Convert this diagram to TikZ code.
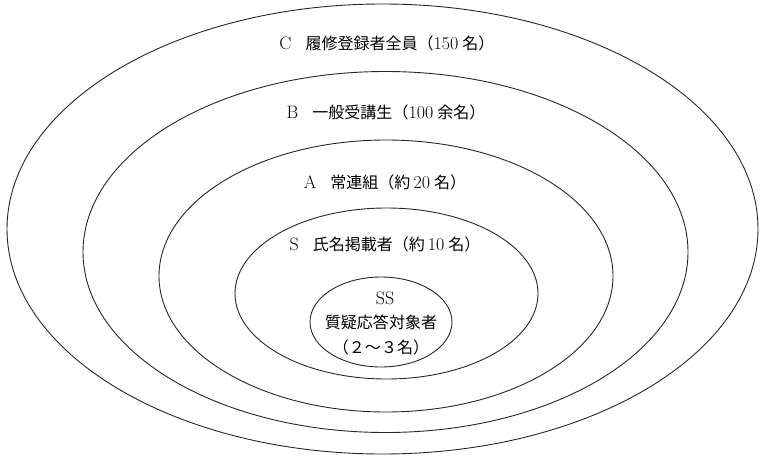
\documentclass[tikz,border=0pt]{standalone}
\usepackage{fontspec}
\newfontfamily\cjk[Scale=0.89]{Noto Sans CJK JP}
\usetikzlibrary{shapes.geometric}
\begin{document}
\begin{tikzpicture}[x=1pt,y=-1pt,
  ring/.style={draw=black!85, line width=0.9pt, ellipse, inner sep=0pt},
  lab/.style={font=\fontsize{18}{24}\selectfont, inner sep=0pt, align=center, text=black}]
\useasboundingbox (0,0) rectangle (760,458);
\node[ring, minimum width=751pt, minimum height=450pt] (C) at (382.5,229) {};
\node[ring, minimum width=605pt, minimum height=361pt] (B) at (385.5,252) {};
\node[ring, minimum width=454pt, minimum height=272pt] (A) at (386,276) {};
\node[ring, minimum width=303pt, minimum height=171pt] (S) at (386.5,293.5) {};
\node[ring, minimum width=142pt, minimum height=90pt] (SS) at (381,322) {};
\node[lab] (Ct) at (387,43) {C\hspace{14pt}{\cjk 履修登録者全員（}150\hspace{4pt}{\cjk 名）}};
\node[lab] (Bt) at (386,112) {B\hspace{14pt}{\cjk 一般受講生（}100\hspace{4pt}{\cjk 余名）}};
\node[lab] (At) at (385,182) {A\hspace{14pt}{\cjk 常連組（約}\hspace{3pt}20\hspace{4pt}{\cjk 名）}};
\node[lab] (St) at (385,244) {S\hspace{14pt}{\cjk 氏名掲載者（約}\hspace{3pt}10\hspace{4pt}{\cjk 名）}};
\node[lab] (SSa) at (385,298) {SS};
\node[lab] (SSb) at (381,322) {\cjk 質疑応答対象者};
\node[lab] (SSc) at (381,347) {\cjk （２～３名）};
\end{tikzpicture}
\end{document}
